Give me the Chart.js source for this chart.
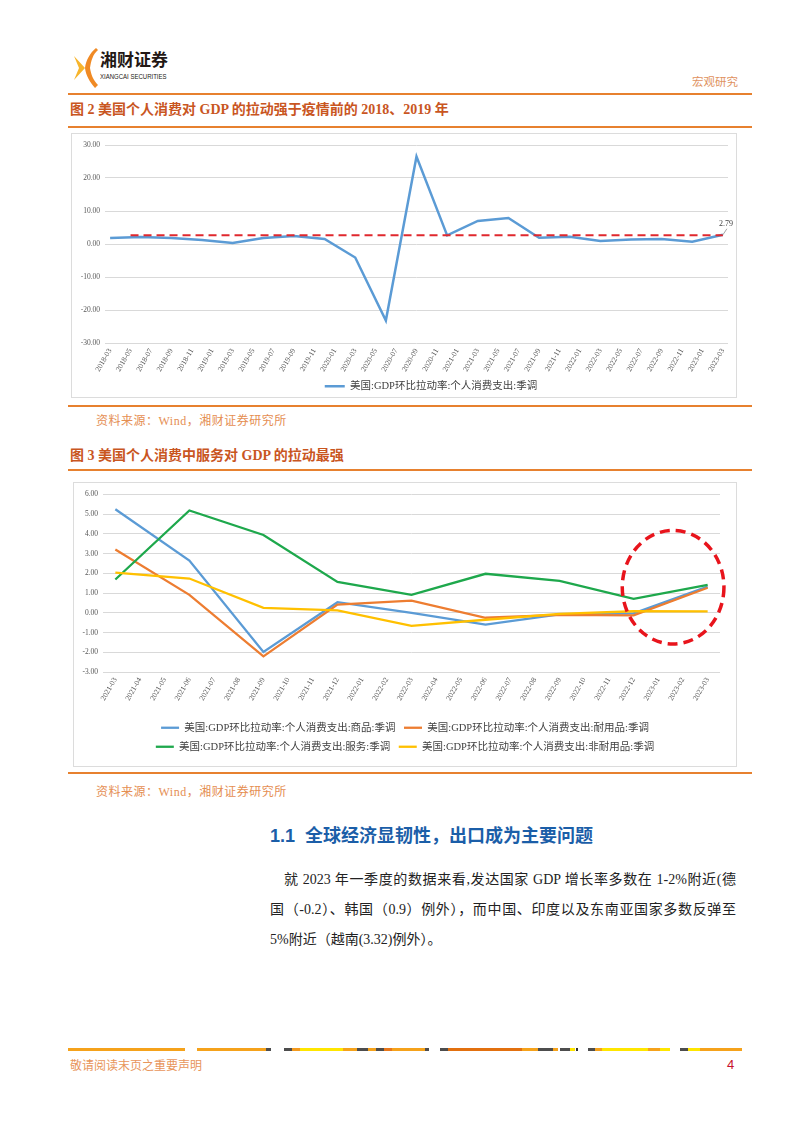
<!DOCTYPE html>
<html lang="zh-CN">
<head>
<meta charset="utf-8">
<title>美国个人消费对GDP的拉动</title>
<script src="https://cdn.jsdelivr.net/npm/chart.js@4.4.1/dist/chart.umd.min.js"></script>
<style>
html,body{margin:0;padding:0;background:#fff;}
body{position:relative;width:802px;height:1133px;overflow:hidden;font-family:"Liberation Serif","Noto Sans CJK SC",serif;}
.a{position:absolute;white-space:nowrap;line-height:1;}
.rule{position:absolute;left:68px;width:684px;height:2px;background:#E7812F;}
.box{position:absolute;border:1.5px solid #DCDCDC;box-sizing:border-box;}
.fig{font-weight:bold;font-size:14px;color:#C9561F;}
.src{font-size:12px;color:#E58E52;letter-spacing:0.5px;}
.p{position:absolute;font-size:14px;line-height:1;color:#222;white-space:nowrap;}
.j{text-align:justify;text-align-last:justify;white-space:normal;}
canvas{position:absolute;}
.seg{position:absolute;top:1048px;height:3px;}
</style>
</head>
<body>
<!-- header -->
<svg class="a" style="left:73px;top:47px" width="26" height="42" viewBox="0 0 26 42">
  <path d="M23 1 C17 6 13 13 12 21 L17 21 C18 14 20 7 25 3 Z" fill="#F08A24"/>
  <path d="M12 21 C13 29 17 35 22 41 L25 38 C20 33 18 27 17 21 Z" fill="#F08A24"/>
  <path d="M1 9 L12 21 L1 33 L6 21 Z" fill="#F7B52C"/>
</svg>
<div class="a" style="left:100px;top:50px;font-family:'Noto Sans CJK SC',sans-serif;font-weight:bold;font-size:17px;color:#231815;">湘财证券</div>
<div class="a" style="left:100px;top:73px;font-family:'Liberation Sans',sans-serif;font-size:7px;color:#231815;transform:scaleX(0.86);transform-origin:0 0;">XIANGCAI SECURITIES</div>
<div class="a" style="left:692px;top:77px;font-size:11.5px;color:#E0915E;">宏观研究</div>
<div class="rule" style="top:93px;"></div>

<div class="a fig" style="left:70px;top:103px;">图 2 美国个人消费对 GDP 的拉动强于疫情前的 2018、2019 年</div>
<div class="rule" style="top:126px;"></div>
<div class="box" style="left:71px;top:133px;width:666px;height:265px;"></div>
<canvas id="c1" width="716" height="262" style="left:73px;top:135px;"></canvas>
<div class="rule" style="top:405px;"></div>
<div class="a src" style="left:96px;top:415px;">资料来源：Wind，湘财证券研究所</div>

<div class="a fig" style="left:70px;top:449px;">图 3 美国个人消费中服务对 GDP 的拉动最强</div>
<div class="rule" style="top:469px;"></div>
<div class="box" style="left:73px;top:482px;width:664px;height:285px;"></div>
<canvas id="c2" width="660" height="279" style="left:75px;top:485px;"></canvas>
<div class="rule" style="top:772px;"></div>
<div class="a src" style="left:96px;top:786px;">资料来源：Wind，湘财证券研究所</div>

<div class="a" style="left:270px;top:827px;font-family:'Liberation Sans','Noto Sans CJK SC',sans-serif;font-weight:bold;font-size:18px;color:#1B5EA8;">1.1&nbsp; 全球经济显韧性，出口成为主要问题</div>
<div class="p j" style="left:284px;top:873px;width:452px;">就 2023 年一季度的数据来看,发达国家 GDP 增长率多数在 1-2%附近(德</div>
<div class="p j" style="left:270px;top:903px;width:466px;">国（-0.2）、韩国（0.9）例外），而中国、印度以及东南亚国家多数反弹至</div>
<div class="p" style="left:270px;top:933px;">5%附近（越南(3.32)例外）。</div>

<div id="bar"></div>
<div class="a" style="left:70px;top:1060px;font-size:12px;color:#E8955B;">敬请阅读末页之重要声明</div>
<div class="a" style="left:727px;top:1058px;font-family:'Liberation Sans',sans-serif;font-size:13px;color:#C8102E;">4</div>

<script>
// ---------- Chart 1 data ----------
const c1Months = ['2018-03','2018-04','2018-05','2018-06','2018-07','2018-08','2018-09','2018-10','2018-11','2018-12',
  '2019-01','2019-02','2019-03','2019-04','2019-05','2019-06','2019-07','2019-08','2019-09','2019-10','2019-11','2019-12',
  '2020-01','2020-02','2020-03','2020-04','2020-05','2020-06','2020-07','2020-08','2020-09','2020-10','2020-11','2020-12',
  '2021-01','2021-02','2021-03','2021-04','2021-05','2021-06','2021-07','2021-08','2021-09','2021-10','2021-11','2021-12',
  '2022-01','2022-02','2022-03','2022-04','2022-05','2022-06','2022-07','2022-08','2022-09','2022-10','2022-11','2022-12',
  '2023-01','2023-02','2023-03'];
const c1Quarters = ['2018-03','2018-06','2018-09','2018-12','2019-03','2019-06','2019-09','2019-12',
  '2020-03','2020-06','2020-09','2020-12','2021-03','2021-06','2021-09','2021-12',
  '2022-03','2022-06','2022-09','2022-12','2023-03'];
const c1Values = [1.8, 2.1, 1.8, 1.2, 0.3, 1.8, 2.4, 1.5, -4.1, -23.2, 26.5, 2.6, 7.0, 7.9, 1.9, 2.2, 0.9, 1.4, 1.5, 0.7, 2.79];
const c1SeriesName = '美国:GDP环比拉动率:个人消费支出:季调';
const c1RefValue = 2.65;
const c1RefFrom = '2018-05';
const c1RefTo = '2023-03';
const c1YTicks = {min: -30, max: 30, step: 10};

// ---------- Chart 2 data ----------
const c2Months = ['2021-03','2021-04','2021-05','2021-06','2021-07','2021-08','2021-09','2021-10','2021-11','2021-12',
  '2022-01','2022-02','2022-03','2022-04','2022-05','2022-06','2022-07','2022-08','2022-09','2022-10','2022-11','2022-12',
  '2023-01','2023-02','2023-03'];
const c2Quarters = ['2021-03','2021-06','2021-09','2021-12','2022-03','2022-06','2022-09','2022-12','2023-03'];
const c2Goods      = [5.25, 2.65, -1.98, 0.54, 0.00, -0.60, -0.08, -0.03, 1.33];
const c2Durable    = [3.21, 0.91, -2.21, 0.42, 0.62, -0.25, -0.10, -0.13, 1.27];
const c2Services   = [1.69, 5.19, 3.95, 1.57, 0.91, 1.98, 1.62, 0.71, 1.42];
const c2Nondurable = [2.04, 1.74, 0.25, 0.12, -0.66, -0.35, -0.05, 0.08, 0.07];
const c2Names = ['美国:GDP环比拉动率:个人消费支出:商品:季调','美国:GDP环比拉动率:个人消费支出:耐用品:季调',
  '美国:GDP环比拉动率:个人消费支出:服务:季调','美国:GDP环比拉动率:个人消费支出:非耐用品:季调'];
const c2YTicks = {min: -3, max: 6, step: 1};
// highlight ellipse (in category index / value units)
const noteCenterX = 22.6, noteCenterY = 1.3, noteRadiusX = 2.06, noteRadiusY = 2.88;

// ---------- footer bar decoration ----------
const barSegs = [[68,185,'#F5A21B'],[197,266,'#F5A21B'],[266,271,'#4d4d4d'],[284,292,'#4d4d4d'],[292,300,'#F39A1E'],
  [300,343,'#FFE600'],[343,357,'#F5A21B'],[357,368,'#4d4d4d'],[368,376,'#F5A21B'],[376,384,'#4d4d4d'],[384,392,'#E8771A'],
  [392,425,'#F5A21B'],[425,429,'#4d4d4d'],[440,448,'#4d4d4d'],[448,522,'#E2700F'],[522,538,'#F5A21B'],[538,553,'#4d4d4d'],
  [553,558,'#F5A21B'],[560,570,'#4d4d4d'],[570,575,'#FFE600'],[576,578,'#333333'],[588,595,'#4d4d4d'],[595,602,'#F5A21B'],
  [602,648,'#FFE600'],[648,660,'#F5A21B'],[660,670,'#FFE600'],[680,688,'#4d4d4d'],[688,700,'#FFE600'],[700,742,'#F5A21B']];
const bar = document.getElementById('bar');
barSegs.forEach(s => { const d = document.createElement('div'); d.className = 'seg';
  d.style.left = s[0] + 'px'; d.style.width = (s[1] - s[0]) + 'px'; d.style.background = s[2]; bar.appendChild(d); });

// ---------- charts ----------
Chart.defaults.font.family = '"Liberation Serif","Noto Sans CJK SC",serif';
Chart.defaults.color = '#595959';
const fmt2 = v => Number(v).toFixed(2);
const pts = (qs, vs) => qs.map((q, i) => ({x: q, y: vs[i]}));

const lastLabel = {
  id: 'lastLabel',
  afterDatasetsDraw(chart) {
    const meta = chart.getDatasetMeta(0);
    const pt = meta.data[meta.data.length - 1];
    const ctx = chart.ctx;
    ctx.save();
    ctx.strokeStyle = '#8c8c8c'; ctx.lineWidth = 0.8;
    ctx.beginPath(); ctx.moveTo(pt.x, pt.y); ctx.lineTo(pt.x + 4, pt.y - 6); ctx.stroke();
    ctx.font = '8px "Liberation Serif"'; ctx.fillStyle = '#404040';
    ctx.textAlign = 'center'; ctx.textBaseline = 'bottom';
    ctx.fillText(fmt2(c1Values[c1Values.length - 1]), pt.x + 3, pt.y - 7);
    ctx.restore();
  }
};

new Chart(document.getElementById('c1'), {
  type: 'line',
  data: {
    labels: c1Months,
    datasets: [
      {label: c1SeriesName, data: pts(c1Quarters, c1Values), borderColor: '#5B9BD5', backgroundColor: '#5B9BD5',
       borderWidth: 2.5, pointRadius: 0, tension: 0, order: 1},
      {label: 'ref', data: [{x: c1RefFrom, y: c1RefValue}, {x: c1RefTo, y: c1RefValue}], borderColor: '#E0282E',
       borderDash: [8, 5], borderWidth: 2, pointRadius: 0, order: 0}
    ]
  },
  options: {
    responsive: false, animation: false,
    layout: {padding: {top: 10, left: 0, right: 0, bottom: 0}},
    plugins: {
      legend: {position: 'bottom', maxHeight: 20,
        labels: {filter: it => it.datasetIndex === 0, usePointStyle: true, pointStyle: 'line', pointStyleWidth: 20,
          padding: 4, font: {size: 10.5}, color: '#404040'}},
      tooltip: {enabled: false}
    },
    scales: {
      x: {type: 'category', offset: true, grid: {display: false, drawTicks: false}, border: {display: false},
        ticks: {autoSkip: false, maxRotation: 60, minRotation: 60, padding: 4, font: {size: 7.5},
          callback: (v, i) => i % 2 === 0 ? c1Months[i] : ''},
        afterFit: s => { s.height = 34; }},
      y: {min: c1YTicks.min, max: c1YTicks.max, ticks: {stepSize: c1YTicks.step, padding: 5, font: {size: 7.5}, callback: fmt2},
        grid: {color: '#D9D9D9', drawTicks: false}, border: {display: false}, afterFit: s => { s.width = 32; }},
      yR: {position: 'right', grid: {display: false, drawTicks: false}, border: {display: false}, ticks: {display: false},
        afterFit: s => { s.width = 61; }}
    }
  },
  plugins: [lastLabel]
});

const ellipseNote = {
  id: 'ellipseNote',
  afterDatasetsDraw(chart) {
    const xs = chart.scales.x, ys = chart.scales.y, ctx = chart.ctx;
    const cx = xs.getPixelForValue(noteCenterX), cy = ys.getPixelForValue(noteCenterY);
    const rx = Math.abs(xs.getPixelForValue(noteCenterX + noteRadiusX) - cx);
    const ry = Math.abs(ys.getPixelForValue(noteCenterY + noteRadiusY) - cy);
    ctx.save();
    ctx.setLineDash([10, 6]); ctx.lineWidth = 3.5; ctx.strokeStyle = '#E8141C';
    ctx.beginPath(); ctx.ellipse(cx, cy, rx, ry, 0, 0, Math.PI * 2); ctx.stroke();
    ctx.restore();
  }
};

const c2Colors = ['#5B9BD5', '#ED7D31', '#1EA84C', '#FFC000'];
const c2Series = [c2Goods, c2Durable, c2Services, c2Nondurable];
new Chart(document.getElementById('c2'), {
  type: 'line',
  data: {
    labels: c2Months,
    datasets: c2Series.map((vals, i) => ({
      label: c2Names[i], data: pts(c2Quarters, vals), borderColor: c2Colors[i], backgroundColor: c2Colors[i],
      borderWidth: 2.3, pointRadius: 0, tension: 0, order: 4 - i
    }))
  },
  options: {
    responsive: false, animation: false,
    layout: {padding: {top: 9, left: 0, right: 0, bottom: 2}},
    plugins: {
      legend: {position: 'bottom',
        labels: {sort: (a, b) => a.datasetIndex - b.datasetIndex, usePointStyle: true, pointStyle: 'line', pointStyleWidth: 18,
          padding: 8.5, font: {size: 10.5}, color: '#404040'}},
      tooltip: {enabled: false}
    },
    scales: {
      x: {type: 'category', offset: true, grid: {display: false, drawTicks: false}, border: {display: false},
        ticks: {autoSkip: false, maxRotation: 60, minRotation: 60, padding: 4, font: {size: 7.5}},
        afterFit: s => { s.height = 42; }},
      y: {min: c2YTicks.min, max: c2YTicks.max, ticks: {stepSize: c2YTicks.step, padding: 5, font: {size: 7.5}, callback: fmt2},
        grid: {color: '#D9D9D9', drawTicks: false}, border: {display: false}, afterFit: s => { s.width = 28; }},
      yR: {position: 'right', grid: {display: false, drawTicks: false}, border: {display: false}, ticks: {display: false},
        afterFit: s => { s.width = 15; }}
    }
  },
  plugins: [ellipseNote]
});
</script>
</body>
</html>
